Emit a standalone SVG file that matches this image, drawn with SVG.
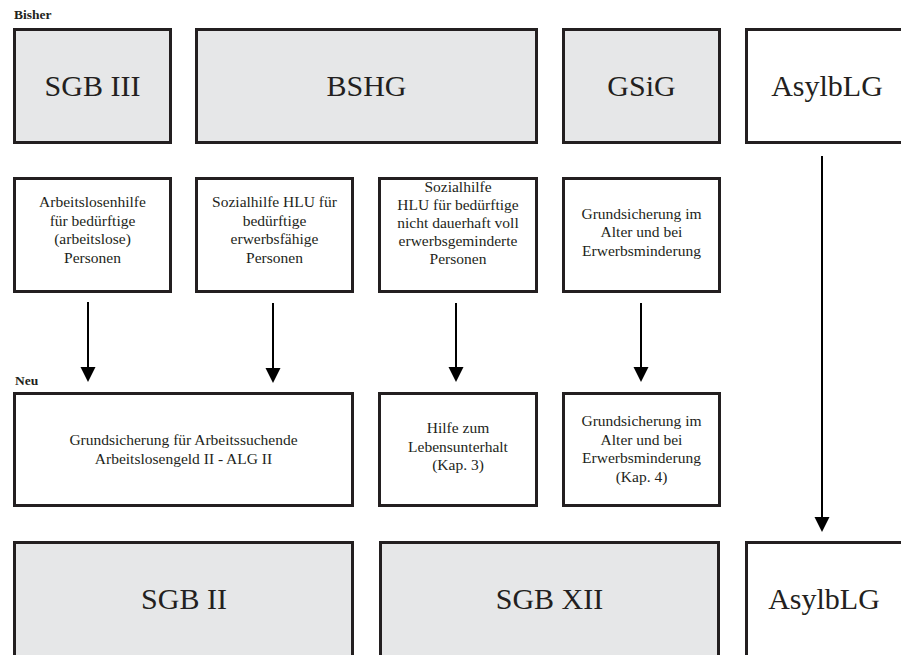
<svg xmlns="http://www.w3.org/2000/svg" width="901" height="655" viewBox="0 0 901 655">
<style>
text{font-family:"Times New Roman","Liberation Serif",Times,"Noto Serif","DejaVu Serif",FreeSerif,Georgia,serif;fill:#231f20;text-anchor:middle}
.big{font-size:30px}
.sm{font-size:15.5px}
.hdr{font-size:13.5px;font-weight:bold;text-anchor:start}
.g{fill:#e6e7e8;stroke:#231f20;stroke-width:3}
.w{fill:#ffffff;stroke:#231f20;stroke-width:3}
.ln{stroke:#000;stroke-width:2;fill:none}
</style>
<rect width="901" height="655" fill="#fff"/>
<text class="hdr" x="14" y="19">Bisher</text>
<text class="hdr" x="15" y="385">Neu</text>

<g id="sgb3"><rect class="g" x="14.5" y="29.5" width="156" height="113"/><text class="big" x="92.5" y="96">SGB III</text></g>
<g id="bshg"><rect class="g" x="196.5" y="29.5" width="340" height="113"/><text class="big" x="366.5" y="96">BSHG</text></g>
<g id="gsig"><rect class="g" x="563.5" y="29.5" width="156" height="113"/><text class="big" x="641.5" y="96">GSiG</text></g>
<g id="asyl1"><rect class="w" x="746.5" y="29.5" width="170" height="113"/><text class="big" x="827" y="96">AsylbLG</text></g>

<g id="alhi"><rect class="w" x="14.5" y="178.5" width="156" height="113"/>
<text class="sm"><tspan x="92.5" y="207">Arbeitslosenhilfe</tspan><tspan x="92.5" y="225.5">für bedürftige</tspan><tspan x="92.5" y="244">(arbeitslose)</tspan><tspan x="92.5" y="262.5">Personen</tspan></text></g>
<g id="hlu1"><rect class="w" x="196.5" y="178.5" width="156" height="113"/>
<text class="sm"><tspan x="274.5" y="207">Sozialhilfe HLU für</tspan><tspan x="274.5" y="225.5">bedürftige</tspan><tspan x="274.5" y="244">erwerbsfähige</tspan><tspan x="274.5" y="262.5">Personen</tspan></text></g>
<g id="hlu2"><rect class="w" x="379.5" y="178.5" width="157" height="113"/>
<text class="sm"><tspan x="458" y="192">Sozialhilfe</tspan><tspan x="458" y="210">HLU für bedürftige</tspan><tspan x="458" y="228">nicht dauerhaft voll</tspan><tspan x="458" y="246">erwerbsgeminderte</tspan><tspan x="458" y="264">Personen</tspan></text></g>
<g id="gsi1"><rect class="w" x="563.5" y="178.5" width="156" height="113"/>
<text class="sm"><tspan x="641.5" y="218.5">Grundsicherung im</tspan><tspan x="641.5" y="237">Alter und bei</tspan><tspan x="641.5" y="255.5">Erwerbsminderung</tspan></text></g>

<g id="alg2"><rect class="w" x="14.5" y="393.5" width="338" height="112"/>
<text class="sm"><tspan x="183.5" y="445">Grundsicherung für Arbeitssuchende</tspan><tspan x="183.5" y="463.5">Arbeitslosengeld II - ALG II</tspan></text></g>
<g id="hlu3"><rect class="w" x="379.5" y="393.5" width="157" height="112"/>
<text class="sm"><tspan x="458" y="433">Hilfe zum</tspan><tspan x="458" y="451.5">Lebensunterhalt</tspan><tspan x="458" y="470">(Kap. 3)</tspan></text></g>
<g id="gsi2"><rect class="w" x="563.5" y="393.5" width="156" height="112"/>
<text class="sm"><tspan x="641.5" y="426">Grundsicherung im</tspan><tspan x="641.5" y="444.5">Alter und bei</tspan><tspan x="641.5" y="463">Erwerbsminderung</tspan><tspan x="641.5" y="481.5">(Kap. 4)</tspan></text></g>

<g id="sgb2"><rect class="g" x="14.5" y="542.5" width="338" height="200"/><text class="big" x="184" y="609">SGB II</text></g>
<g id="sgb12"><rect class="g" x="380.5" y="542.5" width="338" height="200"/><text class="big" x="549.5" y="609">SGB XII</text></g>
<g id="asyl2"><rect class="w" x="746.5" y="542.5" width="170" height="200"/><text class="big" x="824" y="609">AsylbLG</text></g>

<g id="connectors">
<line class="ln" x1="88" y1="302" x2="88" y2="368"/><polygon points="80.5,367 95.5,367 88,382"/>
<line class="ln" x1="273" y1="303" x2="273" y2="369"/><polygon points="265.5,368 280.5,368 273,383"/>
<line class="ln" x1="456" y1="303" x2="456" y2="368"/><polygon points="448.5,367 463.5,367 456,382"/>
<line class="ln" x1="641" y1="303" x2="641" y2="368"/><polygon points="633.5,367 648.5,367 641,382"/>
<line class="ln" x1="822" y1="156" x2="822" y2="518"/><polygon points="814.5,517 829.5,517 822,532"/>
</g>
</svg>
